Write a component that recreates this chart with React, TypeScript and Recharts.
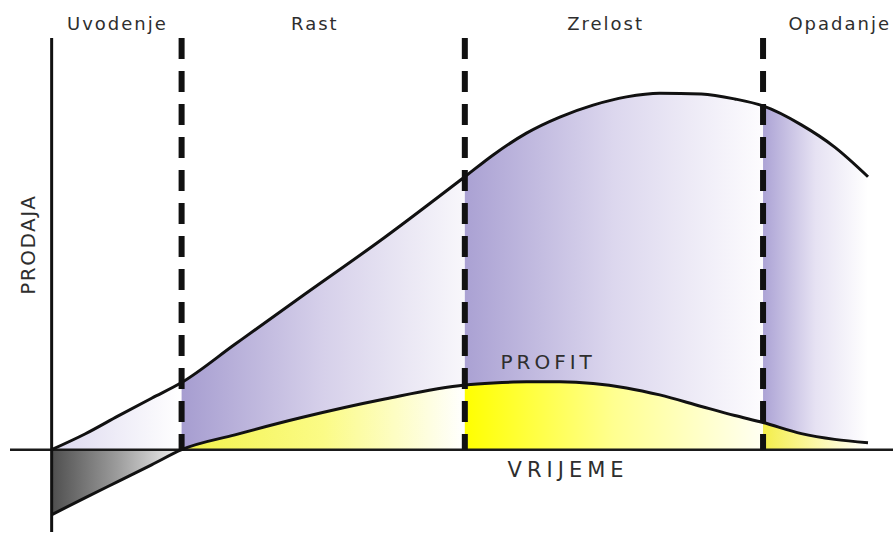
import React from "react";
import {
  ComposedChart,
  Area,
  Line,
  XAxis,
  YAxis,
  ReferenceLine,
  ReferenceDot,
} from "recharts";

// time points (x) and the two curves
const time = [0, 4, 8, 12, 15.6, 22, 30, 40, 49.6, 53, 57, 61, 65, 69, 73, 78, 82, 85.4, 90, 94, 98];
const sales = [0, 3.8, 8.2, 12.5, 16.3, 25.6, 37.2, 51.6, 66.3, 71.6, 76.9, 80.8, 83.7, 85.7, 86.6, 86.4, 85.2, 83.5, 78.9, 73.5, 66.3];
const profit = [-15.8, -11.7, -7.7, -3.7, 0, 3.6, 7.8, 12.3, 15.7, 16.2, 16.5, 16.5, 16.1, 15.0, 13.3, 10.5, 8.3, 6.6, 3.9, 2.5, 1.7];

// phase borders and names
const phases = ["intro", "growth", "maturity", "decline"];
const phaseStart = [0, 15.6, 49.6, 85.4];
const phaseEnd = [15.6, 49.6, 85.4, 98];
const phaseLabels = ["Uvodenje", "Rast", "Zrelost", "Opadanje"];
const phaseLabelX = [7.9, 31.6, 66.5, 94.6];

const data = time.map((t, i) => {
  const row: Record<string, number | null> = { t, sales: sales[i], profit: profit[i] };
  phases.forEach((p, k) => {
    const inside = t >= phaseStart[k] && t <= phaseEnd[k];
    row[`s_${p}`] = inside ? sales[i] : null;
    row[`p_${p}`] = inside ? profit[i] : null;
  });
  return row;
});

const salesGrad: Record<string, [string, string, string]> = {
  intro: ["#dcd8ef", "#eeecf7", "#ffffff"],
  growth: ["#a69dd0", "#d6d0ea", "#f8f7fb"],
  maturity: ["#aaa1d3", "#dcd7ee", "#fdfcfe"],
  decline: ["#aca3d5", "#e6e2f3", "#ffffff"],
};
const profitGrad: Record<string, [string, string, string]> = {
  intro: ["#4f4f4f", "#9b9b9b", "#f2f2f2"],
  growth: ["#f2f24a", "#fbfb86", "#ffffff"],
  maturity: ["#ffff00", "#ffff90", "#fffff2"],
  decline: ["#f4ee4a", "#fbf8a8", "#ffffff"],
};

const font = "'DejaVu Sans', sans-serif";

const App: React.FC = () => {
  return (
    <div style={{ position: "absolute", left: 0, top: 0, background: "#fff" }}>
      <ComposedChart
        width={893}
        height={538}
        data={data}
        margin={{ top: 38, right: 0, bottom: 6, left: 10 }}
      >
        <defs>
          {phases.map((p) => (
            <linearGradient key={`sg-${p}`} id={`sg-${p}`} x1="0" y1="0" x2="1" y2="0">
              <stop offset="0%" stopColor={salesGrad[p][0]} />
              <stop offset="50%" stopColor={salesGrad[p][1]} />
              <stop offset="100%" stopColor={salesGrad[p][2]} />
            </linearGradient>
          ))}
          {phases.map((p) => (
            <linearGradient key={`pg-${p}`} id={`pg-${p}`} x1="0" y1="0" x2="1" y2="0">
              <stop offset="0%" stopColor={profitGrad[p][0]} />
              <stop offset="50%" stopColor={profitGrad[p][1]} />
              <stop offset="100%" stopColor={profitGrad[p][2]} />
            </linearGradient>
          ))}
        </defs>
        <XAxis dataKey="t" type="number" domain={[-5, 101]} hide />
        <YAxis type="number" domain={[-20, 100]} hide allowDataOverflow />

        {phases.map((p) => (
          <Area
            key={`sa-${p}`}
            dataKey={`s_${p}`}
            type="monotone"
            stroke="none"
            fill={`url(#sg-${p})`}
            fillOpacity={1}
            connectNulls={false}
            isAnimationActive={false}
          />
        ))}
        {phases.map((p) => (
          <Area
            key={`pa-${p}`}
            dataKey={`p_${p}`}
            type="monotone"
            stroke="none"
            fill={`url(#pg-${p})`}
            fillOpacity={1}
            connectNulls={false}
            isAnimationActive={false}
          />
        ))}

        <ReferenceLine y={0} stroke="#1a1a1a" strokeWidth={2.5} />
        <ReferenceLine
          segment={[{ x: 0, y: -20 }, { x: 0, y: 100 }]}
          stroke="#111"
          strokeWidth={3}
        />

        <Line dataKey="sales" type="monotone" stroke="#111" strokeWidth={3} dot={false} isAnimationActive={false} />
        <Line dataKey="profit" type="monotone" stroke="#111" strokeWidth={3} dot={false} isAnimationActive={false} />

        {phaseStart.slice(1).map((b) => (
          <ReferenceLine
            key={`b-${b}`}
            segment={[{ x: b, y: 100 }, { x: b, y: 0 }]}
            stroke="#111"
            strokeWidth={6}
            strokeDasharray="21 12"
          />
        ))}

        {phaseLabels.map((name, k) => (
          <ReferenceDot
            key={name}
            x={phaseLabelX[k]}
            y={103.4}
            r={0}
            ifOverflow="visible"
            label={{ value: name, position: "center", fill: "#2e2e2e", fontSize: 18, fontFamily: font, letterSpacing: 2 }}
          />
        ))}
        <ReferenceDot
          x={59.6}
          y={21.2}
          r={0}
          ifOverflow="visible"
          label={{ value: "PROFIT", position: "center", fill: "#2e2e2e", fontSize: 20, fontFamily: font, letterSpacing: 4 }}
        />
        <ReferenceDot
          x={62}
          y={-4.85}
          r={0}
          ifOverflow="visible"
          label={{ value: "VRIJEME", position: "center", fill: "#2e2e2e", fontSize: 21, fontFamily: font, letterSpacing: 5 }}
        />
        <ReferenceDot
          x={-2.9}
          y={49.8}
          r={0}
          ifOverflow="visible"
          label={{ value: "PRODAJA", position: "center", angle: -90, fill: "#2e2e2e", fontSize: 20, fontFamily: font, letterSpacing: 1.5 }}
        />
      </ComposedChart>
    </div>
  );
};

export default App;
